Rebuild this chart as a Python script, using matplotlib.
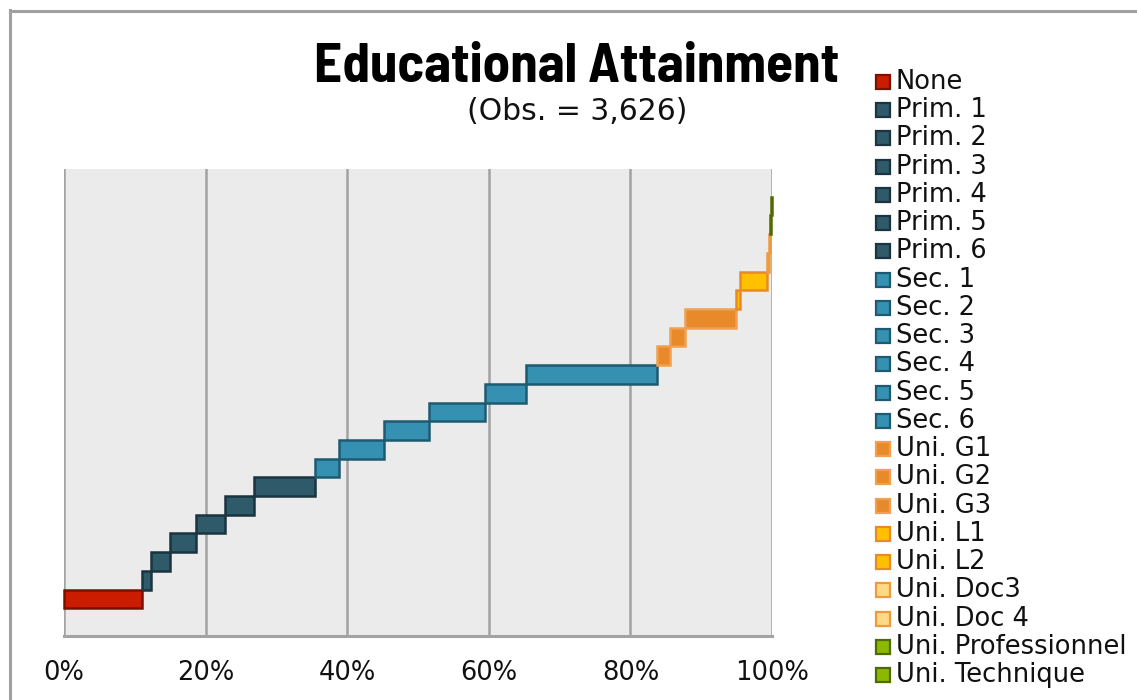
import matplotlib
matplotlib.use("Agg")
import matplotlib.pyplot as plt
from matplotlib.patches import Rectangle
from matplotlib.lines import Line2D
from matplotlib import font_manager
from matplotlib.font_manager import FontProperties
from matplotlib.textpath import TextPath

# Education levels and their share of respondents (%)
categories = ["None", "Prim. 1", "Prim. 2", "Prim. 3", "Prim. 4", "Prim. 5", "Prim. 6",
              "Sec. 1", "Sec. 2", "Sec. 3", "Sec. 4", "Sec. 5", "Sec. 6",
              "Uni. G1", "Uni. G2", "Uni. G3", "Uni. L1", "Uni. L2",
              "Uni. Doc3", "Uni. Doc 4", "Uni. Professionnel", "Uni. Technique"]
shares = [11.0, 1.3, 2.7, 3.6, 4.1, 4.2, 8.5,
          3.4, 6.4, 6.3, 7.9, 5.9, 18.5,
          1.8, 2.1, 7.2, 0.6, 3.85,
          0.2, 0.15, 0.2, 0.1]
groups = ["none"] + ["prim"] * 6 + ["sec"] * 6 + ["unig"] * 3 + ["unil"] * 2 + ["doc"] * 2 + ["tech"] * 2
x_ticks = [0, 20, 40, 60, 80, 100]
x_tick_labels = ["0%", "20%", "40%", "60%", "80%", "100%"]
title = "Educational Attainment"
subtitle = "(Obs. = 3,626)"

fill = {"none": "#CC1C00", "prim": "#2E5A69", "sec": "#3590B2", "unig": "#E98A2A",
        "unil": "#FFC000", "doc": "#FFD985", "tech": "#8DB800"}
edge = {"none": "#7A1000", "prim": "#1A3440", "sec": "#1E5A70", "unig": "#F0A04E",
        "unil": "#E98A2A", "doc": "#EE9A40", "tech": "#4F6B00"}

W, H = 1137, 700
TITLE_W, TITLE_CAP = 520.0, 38.0  # title width and capital height in pixels


def pick_title_font():
    """Choose a bold face whose proportions suit the title, sized to its width."""
    cands = []
    for f in font_manager.fontManager.ttflist:
        if ("Condensed" in f.name or "Narrow" in f.name) and f.weight in ("bold", 700):
            cands.append((f.name, f.fname))
    for f in font_manager.fontManager.ttflist:
        if f.name in ("Roboto", "Liberation Sans", "DejaVu Sans", "Open Sans", "Lato") \
                and f.weight in ("bold", 700) and f.style == "normal" \
                and f.stretch in ("normal", 500) and "Condensed" not in f.fname:
            cands.append((f.name, f.fname))
    best = None
    seen = set()
    for name, fname in cands[:14]:
        if fname in seen:
            continue
        seen.add(fname)
        try:
            fp = FontProperties(fname=fname)
            ext = TextPath((0, 0), title, size=100, prop=fp).get_extents()
            cap = TextPath((0, 0), "E", size=100, prop=fp).get_extents()
            size_px = TITLE_W / ext.width * 100
            cap_px = cap.height / 100 * size_px
            score = abs(cap_px - TITLE_CAP)
            if best is None or score < best[0]:
                best = (score, fname, size_px * 72 / 100)
        except Exception:
            continue
    if best is None:
        return None, 30
    return best[1], best[2]


title_file, title_size = pick_title_font()

fig = plt.figure(figsize=(W / 100, H / 100), dpi=100)
fig.patch.set_facecolor("white")


def fx(px):
    return px / W


def fy(py):
    return 1 - py / H


ax = fig.add_axes([fx(64), fy(636), fx(772) - fx(64), fy(169) - fy(636)])
ax.set_facecolor("#EBEBEB")
ax.set_xlim(0, 100)
ax.set_ylim(-1.98, len(categories) - 1 + 1.98)

for x in x_ticks:
    ax.axvline(x, color="#A3A3A3", lw=1.8, zorder=1)

left = 0.0
for i, (cat, s, g) in enumerate(zip(categories, shares, groups)):
    ax.barh(i, s, left=left, height=1.0, color=fill[g], edgecolor=edge[g],
            linewidth=1.8, zorder=3, clip_on=False)
    left += s

for sp in ["top", "right", "left"]:
    ax.spines[sp].set_visible(False)
ax.spines["bottom"].set_color("#A3A3A3")
ax.spines["bottom"].set_linewidth(2.2)
ax.spines["bottom"].set_zorder(4)
ax.set_yticks([])
ax.set_xticks(x_ticks)
ax.set_xticklabels(x_tick_labels, fontsize=18.5, family="DejaVu Sans", color="#111111")
ax.tick_params(axis="x", length=0, pad=17)

# title block
if title_file:
    title_fp = FontProperties(fname=title_file, size=title_size)
else:
    title_fp = FontProperties(family="DejaVu Sans", weight="bold", size=title_size)
fig.text(fx(577), fy(67), title, ha="center", va="center", fontproperties=title_fp)
fig.text(fx(577), fy(111), subtitle, ha="center", va="center", fontsize=21.5,
         family="DejaVu Sans", color="#111111")

# legend
y0, pitch = 82, 28.24
for i, (cat, g) in enumerate(zip(categories, groups)):
    yc = y0 + i * pitch
    fig.add_artist(Rectangle((fx(876), fy(yc + 7)), fx(14), fy(yc - 7) - fy(yc + 7),
                             transform=fig.transFigure, facecolor=fill[g],
                             edgecolor=edge[g], linewidth=1.6))
    fig.text(fx(896), fy(yc), cat, ha="left", va="center", fontsize=18.5,
             family="DejaVu Sans", color="#111111")

# outer frame
fig.add_artist(Line2D([fx(10), fx(10)], [fy(10), 0], transform=fig.transFigure,
                      color="#A0A0A0", lw=2.2))
fig.add_artist(Line2D([fx(10), 1], [fy(11), fy(11)], transform=fig.transFigure,
                      color="#A0A0A0", lw=2.2))

fig.savefig("out.png", dpi=100)
